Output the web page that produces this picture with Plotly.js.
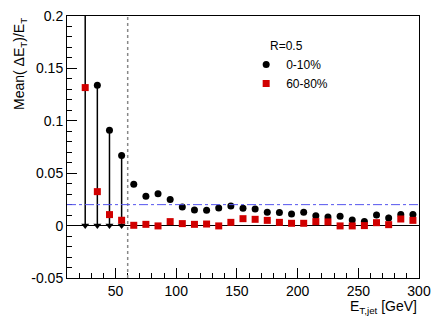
<!DOCTYPE html>
<html><head><meta charset="utf-8">
<script src="https://cdn.plot.ly/plotly-3.0.1.min.js"></script>
<style>html,body{margin:0;padding:0;background:#fff}</style>
</head><body><div id="chart" style="width:441px;height:317px"></div>
<script>
// 0-10% central points (measured)
const xCentral = [65,75,85,95,105,115,125,135,145,155,165,175,185,195,205,215,225,235,245,255,265,275,285,295];
const central010 = [0.0394,0.0280,0.0305,0.0250,0.0178,0.0149,0.0147,0.0168,0.0187,0.0165,0.0159,0.0127,0.0124,0.0111,0.0127,0.0095,0.0082,0.0089,0.0053,0.0038,0.0101,0.0073,0.0105,0.0105];
const central010Err = [0.0025,0.0022,0.0018,0.0018,0.0015,0.0014,0.0014,0.0014,0.0014,0.0014,0.0014,0.0014,0.0014,0.0014,0.0014,0.0014,0.0014,0.0014,0.0015,0.0016,0.0030,0.0030,0.0020,0.0020];
// 0-10% low-ET points drawn as upper limits (arrow down to zero)
const limitX = [25,35,45,55];
const limit010 = [0.25,0.134,0.091,0.067];
const arrowY = [0,0,0,0];
// 60-80% points
const xPeriph = [25,35,45,55,65,75,85,95,105,115,125,135,145,155,165,175,185,195,205,215,225,235,245,255,265,275,285,295];
const periph6080 = [0.1317,0.0324,0.0105,0.0051,0.0003,0.0012,-0.0003,0.0038,0.0019,0.0012,0.0015,-0.0003,0.0031,0.0066,0.0060,0.0050,0.0031,0.0022,0.0022,0.0038,0.0035,-0.0003,-0.0003,0.0000,0.0028,0.0009,0.0063,0.0050];
// axis ticks
const yTickVals = [-0.05,0,0.05,0.1,0.15,0.2];
const yTickText = ['-0.05','0','0.05','0.1','0.15','0.2'];
const xTickVals = [50,100,150,200,250,300];
const xTickText = ['50','100','150','200','250','300'];
const cutX = 60;
const refLevel = 0.02;

const FONT = 'Liberation Sans, Arial, Helvetica, sans-serif';
const RED = '#d10000';

const traces = [
  {x: limitX, y: limit010, type:'scatter', mode:'markers', showlegend:false,
   marker:{symbol:'circle', size:7, color:'black'},
   error_y:{type:'data', symmetric:false, array:[0,0,0,0], arrayminus: limit010, color:'black', thickness:1.5, width:0}},
  {x: limitX, y: arrowY, type:'scatter', mode:'markers', showlegend:false,
   marker:{symbol:'triangle-down', size:7, color:'black'}},
  {x: xCentral, y: central010, type:'scatter', mode:'markers', name:'0-10%',
   marker:{symbol:'circle', size:7, color:'black'},
   error_y:{type:'data', array: central010Err, color:'black', thickness:1.5, width:0}},
  {x: xPeriph, y: periph6080, type:'scatter', mode:'markers', name:'60-80%',
   marker:{symbol:'square', size:7, color:RED}}
];

const layout = {
  width:441, height:317,
  margin:{l:67, r:22, t:16, b:39},
  paper_bgcolor:'white', plot_bgcolor:'white',
  font:{family:FONT, size:14, color:'black'},
  showlegend:true,
  legend:{x:0.509, y:0.87, xanchor:'left', yanchor:'top', font:{size:12, family:FONT}, bgcolor:'rgba(0,0,0,0)', borderwidth:0},
  xaxis:{range:[10,300], tickmode:'array', tickvals:xTickVals, ticktext:xTickText,
    ticks:'inside', ticklen:10, tickwidth:1, tickcolor:'black',
    minor:{dtick:10, tick0:0, ticks:'inside', ticklen:5, tickwidth:1, tickcolor:'black'},
    showline:true, linecolor:'black', linewidth:1, mirror:true,
    showgrid:false, zeroline:false, tickfont:{size:14, family:FONT}},
  yaxis:{range:[-0.05,0.2], tickmode:'array', tickvals:yTickVals, ticktext:yTickText,
    ticks:'inside', ticklen:10, tickwidth:1, tickcolor:'black',
    minor:{dtick:0.01, tick0:0, ticks:'inside', ticklen:5, tickwidth:1, tickcolor:'black'},
    showline:true, linecolor:'black', linewidth:1, mirror:true,
    showgrid:false, zeroline:true, zerolinecolor:'black', zerolinewidth:1,
    tickfont:{size:14, family:FONT}},
  shapes:[
    {type:'line', xref:'x', yref:'paper', x0:cutX, x1:cutX, y0:0, y1:1, line:{color:'#888', width:1.5, dash:'dot'}},
    {type:'line', xref:'paper', yref:'y', x0:0, x1:1, y0:refLevel, y1:refLevel, line:{color:'#5555ee', width:1, dash:'dashdot'}}
  ],
  annotations:[
    {text:'Mean( ΔE<sub>T</sub>)/E<sub>T</sub>', textangle:-90, xref:'paper', yref:'paper', x:0, y:1, xshift:-47, xanchor:'center', yanchor:'top', showarrow:false, font:{size:14, family:FONT}},
    {text:'E<sub>T,jet</sub> [GeV]', xref:'paper', yref:'paper', x:1, y:0, yshift:-18, xanchor:'right', yanchor:'top', showarrow:false, font:{size:14, family:FONT}},
    {text:'R=0.5', xref:'paper', yref:'paper', x:0.571, y:0.887, xanchor:'left', yanchor:'middle', showarrow:false, font:{size:12, family:FONT}}
  ]
};

Plotly.newPlot('chart', traces, layout, {displayModeBar:false, staticPlot:true});
</script></body></html>
